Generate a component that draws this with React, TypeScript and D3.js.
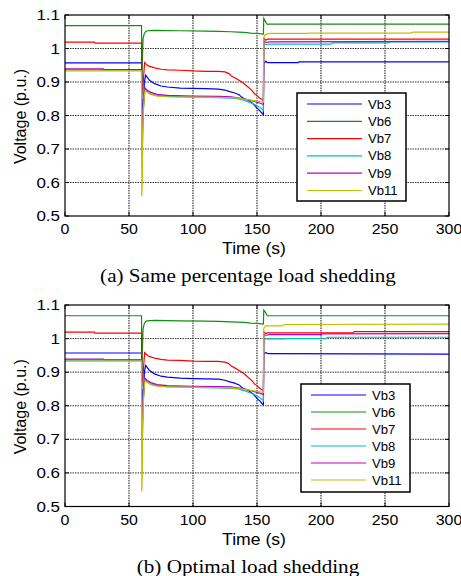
import * as d3 from "d3";

const W = 461;
const H = 576;

const timeTicks = [0, 50, 100, 150, 200, 250, 300];
const voltTicks = [0.5, 0.6, 0.7, 0.8, 0.9, 1.0, 1.1];
const voltTickLabels = ["0.5", "0.6", "0.7", "0.8", "0.9", "1", "1.1"];
const busNames = ["Vb3", "Vb6", "Vb7", "Vb8", "Vb9", "Vb11"];
const busColors = ["#0000ff", "#109010", "#ff0000", "#00c0c0", "#c000c0", "#c0c000"];
const captions = ["(a) Same percentage load shedding", "(b) Optimal load shedding"];

// [time (s), voltage (p.u.)] from 0 s up to the second event at 155 s
const vb3Fault = [[0, 0.957], [59.8, 0.957], [60, 0.79], [60.6, 0.8], [61, 0.85], [61.5, 0.84], [62, 0.9], [63, 0.92], [64, 0.915], [66, 0.905], [70, 0.895], [75, 0.888], [80, 0.885], [90, 0.882], [100, 0.881], [110, 0.88], [120, 0.879], [125, 0.876], [128, 0.872], [132, 0.868], [136, 0.862], [138, 0.855], [140, 0.85], [143, 0.846], [145, 0.84], [147, 0.835], [150, 0.822], [152, 0.815], [154, 0.806], [155, 0.803]];
const vb6Fault = [[0, 1.068], [59.8, 1.068], [60, 0.86], [60.5, 0.97], [61, 1.03], [62, 1.045], [63, 1.05], [64, 1.053], [70, 1.054], [90, 1.053], [110, 1.052], [120, 1.051], [130, 1.05], [135, 1.049], [140, 1.048], [145, 1.046], [150, 1.045], [155, 1.043]];
const vb7Fault = [[0, 1.019], [23, 1.019], [23.5, 1.016], [59.8, 1.016], [60, 0.87], [60.8, 0.88], [61.5, 0.92], [62.2, 0.958], [63, 0.955], [65, 0.948], [70, 0.942], [75, 0.938], [80, 0.936], [90, 0.935], [100, 0.933], [110, 0.932], [120, 0.932], [125, 0.93], [128, 0.925], [130, 0.918], [133, 0.912], [136, 0.905], [140, 0.895], [143, 0.885], [146, 0.875], [148, 0.865], [150, 0.86], [152, 0.852], [155, 0.845]];
const vb8Fault = [[0, 0.936], [59.8, 0.936], [60, 0.68], [60.5, 0.72], [61, 0.8], [61.5, 0.83], [62, 0.86], [62.5, 0.878], [64, 0.872], [67, 0.865], [72, 0.86], [80, 0.857], [100, 0.855], [120, 0.853], [130, 0.852], [135, 0.85], [140, 0.845], [145, 0.838], [150, 0.83], [153, 0.822], [155, 0.815]];
const vb9Fault = [[0, 0.939], [30, 0.939], [30.5, 0.937], [59.8, 0.937], [60, 0.7], [60.5, 0.74], [61, 0.81], [61.5, 0.84], [62, 0.87], [62.6, 0.882], [64, 0.876], [67, 0.869], [72, 0.863], [80, 0.86], [100, 0.858], [120, 0.857], [130, 0.856], [135, 0.853], [140, 0.85], [145, 0.845], [150, 0.84], [153, 0.836], [155, 0.833]];
const vb11FaultA = [[0, 0.933], [59.8, 0.933], [60, 0.56], [60.4, 0.6], [60.8, 0.75], [61.3, 0.82], [62, 0.86], [62.6, 0.875], [64, 0.87], [67, 0.863], [72, 0.858], [80, 0.856], [100, 0.855], [120, 0.854], [130, 0.853], [135, 0.852], [140, 0.849], [145, 0.846], [150, 0.843], [155, 0.84]];
const vb11FaultB = [[0, 0.933], [59.8, 0.933], [60, 0.545], [60.4, 0.6], [60.8, 0.75], [61.3, 0.82], [62, 0.86], [62.6, 0.875], [64, 0.87], [67, 0.863], [72, 0.858], [80, 0.856], [100, 0.855], [120, 0.854], [130, 0.853], [135, 0.852], [140, 0.849], [145, 0.846], [150, 0.843], [155, 0.84]];

// after 155 s, case (a) same percentage shedding
const vb3AfterA = [[155.3, 0.955], [157, 0.962], [158, 0.958], [182, 0.958], [183, 0.96], [300, 0.96]];
const vb6AfterA = [[155.3, 1.09], [156, 1.085], [157, 1.078], [158, 1.072], [160, 1.073], [300, 1.073]];
const vb7AfterA = [[155.3, 1.03], [157, 1.025], [158, 1.028], [300, 1.028]];
const vb8AfterA = [[155.3, 1.015], [157, 1.012], [160, 1.013], [208, 1.013], [209, 1.017], [253, 1.017], [254, 1.02], [300, 1.02]];
const vb9AfterA = [[155.3, 1.022], [157, 1.018], [160, 1.02], [300, 1.021]];
const vb11AfterA = [[155.3, 1.03], [156, 1.04], [157, 1.042], [160, 1.045], [190, 1.045], [191, 1.046], [270, 1.046], [272, 1.049], [300, 1.049]];

// after 155 s, case (b) optimal shedding
const vb3AfterB = [[155.3, 0.955], [157, 0.958], [159, 0.955], [300, 0.954]];
const vb6AfterB = [[155.3, 1.085], [156, 1.082], [157, 1.075], [158, 1.068], [160, 1.068], [300, 1.068]];
const vb7AfterB = [[155.3, 1.02], [157, 1.015], [158, 1.017], [225, 1.017], [226, 1.021], [300, 1.021]];
const vb8AfterB = [[155.3, 0.998], [157, 0.999], [172, 0.999], [173, 1.0], [204, 1.0], [205, 1.004], [300, 1.004]];
const vb9AfterB = [[155.3, 1.012], [157, 1.01], [160, 1.012], [200, 1.012], [201, 1.014], [300, 1.015]];
const vb11AfterB = [[155.3, 1.03], [156, 1.035], [157, 1.038], [170, 1.038], [171, 1.042], [300, 1.043]];

const seriesA = [
  vb3Fault.concat(vb3AfterA),
  vb6Fault.concat(vb6AfterA),
  vb7Fault.concat(vb7AfterA),
  vb8Fault.concat(vb8AfterA),
  vb9Fault.concat(vb9AfterA),
  vb11FaultA.concat(vb11AfterA),
];
const seriesB = [
  vb3Fault.concat(vb3AfterB),
  vb6Fault.concat(vb6AfterB),
  vb7Fault.concat(vb7AfterB),
  vb8Fault.concat(vb8AfterB),
  vb9Fault.concat(vb9AfterB),
  vb11FaultB.concat(vb11AfterB),
];

const sans = "Arial, 'Liberation Sans', sans-serif";
const serif = "'Times New Roman', 'Liberation Serif', serif";

const xScale = d3.scaleLinear().domain([0, 300]).range([65, 449]);

// the source picture is a little wider than tall, so text gets a horizontal stretch
const Txt = ({ x, y, sx = 1.1, anchor = "start", family = sans, size = 14.5, children }) => (
  <text transform={`translate(${x},${y}) scale(${sx},1)`} textAnchor={anchor} fontFamily={family} fontSize={size}>
    {children}
  </text>
);

const Panel = ({ id, top, bottom, series, caption, legend }) => {
  const yScale = d3.scaleLinear().domain([0.5, 1.1]).range([bottom, top]);
  const line = d3
    .line()
    .x((d) => xScale(d[0]))
    .y((d) => yScale(d[1]));
  const [x0, x1] = xScale.range();

  return (
    <g>
      <defs>
        <clipPath id={id}>
          <rect x={x0} y={top} width={x1 - x0} height={bottom - top} />
        </clipPath>
      </defs>
      {/* grid */}
      {timeTicks.slice(1, -1).map((t) => (
        <line key={"gx" + t} x1={xScale(t)} x2={xScale(t)} y1={top} y2={bottom}
          stroke="#555" strokeWidth={1.4} strokeDasharray="1.5,1" />
      ))}
      {voltTicks.slice(1, -1).map((v) => (
        <line key={"gy" + v} x1={x0} x2={x1} y1={yScale(v)} y2={yScale(v)}
          stroke="#333" strokeWidth={1} strokeDasharray="1.5,1" />
      ))}
      {/* ticks */}
      {timeTicks.map((t) => (
        <g key={"tx" + t}>
          <line x1={xScale(t)} x2={xScale(t)} y1={bottom} y2={bottom - 4} stroke="#000" />
          <line x1={xScale(t)} x2={xScale(t)} y1={top} y2={top + 4} stroke="#000" />
          <Txt x={xScale(t)} y={bottom + 18} anchor="middle">{t}</Txt>
        </g>
      ))}
      {voltTicks.map((v, i) => (
        <g key={"ty" + v}>
          <line x1={x0} x2={x0 + 4} y1={yScale(v)} y2={yScale(v)} stroke="#000" />
          <line x1={x1} x2={x1 - 4} y1={yScale(v)} y2={yScale(v)} stroke="#000" />
          <Txt x={x0 - 5} y={yScale(v) + 5} anchor="end" sx={1.17}>{voltTickLabels[i]}</Txt>
        </g>
      ))}
      {/* data */}
      <g clipPath={`url(#${id})`}>
        {series.map((s, i) => (
          <path key={busNames[i]} d={line(s)} fill="none" stroke={busColors[i]} strokeWidth={1.2} />
        ))}
      </g>
      <rect x={x0} y={top} width={x1 - x0} height={bottom - top} fill="none" stroke="#000" strokeWidth={1.2} />
      {/* axis titles */}
      <Txt x={254} y={bottom + 38} anchor="middle" size={16}>Time (s)</Txt>
      <text transform={`translate(26,${(top + bottom) / 2 + 1}) rotate(-90)`} textAnchor="middle" fontFamily={sans} fontSize={16}>Voltage (p.u.)</text>
      <Txt x={248} y={bottom + 66} anchor="middle" family={serif} size={19.5} sx={1.085}>{caption}</Txt>
      {/* legend */}
      <rect x={legend.x} y={legend.y} width={109} height={108} fill="#fff" stroke="#000" strokeWidth={1.5} />
      {busNames.map((name, i) => {
        const ly = legend.y + 11 + i * legend.step;
        return (
          <g key={"lg" + name}>
            <line x1={legend.x + 10} x2={legend.x + 65} y1={ly} y2={ly} stroke={busColors[i]} strokeWidth={1.2} />
            <Txt x={legend.x + 71} y={ly + 4.5} size={12.5} sx={1.05}>{name}</Txt>
          </g>
        );
      })}
    </g>
  );
};

export default function App() {
  return (
    <svg width={W} height={H} viewBox={`0 0 ${W} ${H}`}
      style={{ position: "absolute", left: 0, top: 0, background: "#fff" }}>
      <rect width={W} height={H} fill="#fff" />
      <Panel id="clipA" top={15} bottom={216} series={seriesA} caption={captions[0]}
        legend={{ x: 297, y: 93, step: 17.3 }} />
      <Panel id="clipB" top={305} bottom={506.5} series={seriesB} caption={captions[1]}
        legend={{ x: 301, y: 384, step: 17 }} />
    </svg>
  );
}
